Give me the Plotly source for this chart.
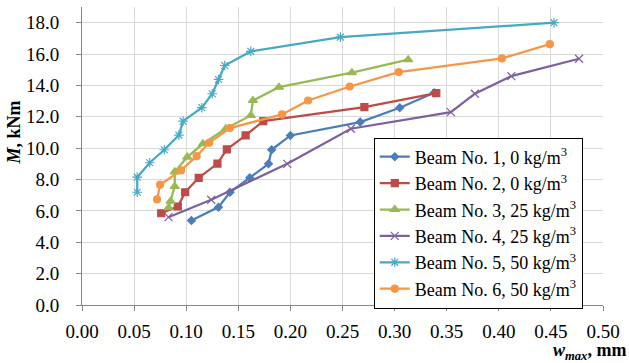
import plotly.graph_objects as go

names = ["Beam No. 1, 0 kg/m<sup>3</sup>", "Beam No. 2, 0 kg/m<sup>3</sup>",
         "Beam No. 3, 25 kg/m<sup>3</sup>", "Beam No. 4, 25 kg/m<sup>3</sup>",
         "Beam No. 5, 50 kg/m<sup>3</sup>", "Beam No. 6, 50 kg/m<sup>3</sup>"]

b1_w = [0.105, 0.131, 0.142, 0.161, 0.179, 0.182, 0.200, 0.267, 0.305, 0.338]
b1_m = [5.39, 6.24, 7.19, 8.11, 9.00, 9.90, 10.81, 11.66, 12.58, 13.53]

b2_w = [0.076, 0.092, 0.099, 0.112, 0.130, 0.139, 0.157, 0.174, 0.271, 0.340]
b2_m = [5.85, 6.28, 7.19, 8.11, 9.02, 9.92, 10.81, 11.72, 12.61, 13.51]

b3_w = [0.083, 0.085, 0.089, 0.089, 0.101, 0.116, 0.138, 0.162, 0.164, 0.189, 0.259, 0.313]
b3_m = [6.20, 6.62, 7.56, 8.49, 9.43, 10.28, 11.24, 12.09, 13.04, 13.89, 14.81, 15.64]

b4_w = [0.083, 0.124, 0.197, 0.258, 0.354, 0.377, 0.412, 0.477]
b4_m = [5.60, 6.71, 9.00, 11.24, 12.30, 13.47, 14.59, 15.70]

b5_w = [0.053, 0.053, 0.065, 0.079, 0.093, 0.097, 0.115, 0.125, 0.131, 0.137, 0.162, 0.248, 0.453]
b5_m = [7.19, 8.15, 9.07, 9.90, 10.83, 11.72, 12.58, 13.47, 14.38, 15.27, 16.17, 17.08, 18.00]

b6_w = [0.072, 0.075, 0.095, 0.110, 0.122, 0.142, 0.192, 0.217, 0.257, 0.304, 0.403, 0.449]
b6_m = [6.73, 7.67, 8.58, 9.49, 10.34, 11.28, 12.15, 13.04, 13.93, 14.85, 15.72, 16.63]

x_ticks = [0.00, 0.05, 0.10, 0.15, 0.20, 0.25, 0.30, 0.35, 0.40, 0.45, 0.50]
x_labels = ["0.00", "0.05", "0.10", "0.15", "0.20", "0.25", "0.30", "0.35", "0.40", "0.45", "0.50"]
y_ticks = [0, 2, 4, 6, 8, 10, 12, 14, 16, 18]
y_labels = ["0.0", "2.0", "4.0", "6.0", "8.0", "10.0", "12.0", "14.0", "16.0", "18.0"]

series = [
    (b1_w, b1_m, "#4A7EBB", "diamond", 6),
    (b2_w, b2_m, "#BE4B48", "square", 7),
    (b3_w, b3_m, "#98B954", "triangle-up", 8),
    (b4_w, b4_m, "#7D60A0", "x-thin-open", 8),
    (b5_w, b5_m, "#46AAC5", "asterisk-open", 8),
    (b6_w, b6_m, "#F79646", "circle", 7),
]

FF = "Liberation Serif"
TICKF = dict(family=FF, size=19, color="black")

fig = go.Figure()
for (xs, ys, col, sym, sz), nm in zip(series, names):
    fig.add_trace(go.Scatter(
        x=xs, y=ys, mode="lines+markers", name=nm,
        line=dict(color=col, width=2.25),
        marker=dict(symbol=sym, size=sz, color=col, line=dict(color=col, width=1.2)),
    ))

fig.update_layout(
    template="none",
    width=629, height=363,
    margin=dict(l=82, r=26, t=7, b=58),
    paper_bgcolor="white", plot_bgcolor="white",
    font=dict(family=FF, size=18, color="black"),
    showlegend=True,
    legend=dict(
        x=0.56, y=0.562, xanchor="left", yanchor="top",
        bordercolor="black", borderwidth=1, bgcolor="white",
        font=dict(family=FF, size=18, color="black"),
        itemwidth=30, tracegroupgap=0,
    ),
    xaxis=dict(
        range=[0, 0.5], tickmode="array", tickvals=x_ticks, ticktext=x_labels,
        showgrid=True, gridcolor="#D9D9D9", gridwidth=1,
        showline=True, linecolor="#868686", linewidth=1,
        ticks="outside", ticklen=5, tickcolor="#868686",
        zeroline=False, tickfont=TICKF, ticklabelstandoff=4,
    ),
    yaxis=dict(
        range=[0, 19], tickmode="array", tickvals=y_ticks, ticktext=y_labels,
        showgrid=True, gridcolor="#D9D9D9", gridwidth=1,
        showline=True, linecolor="#868686", linewidth=1,
        ticks="outside", ticklen=5, tickcolor="#868686",
        zeroline=False, tickfont=TICKF, ticklabelstandoff=13,
    ),
    annotations=[
        dict(text="<b><i>M</i>, kNm</b>", xref="paper", yref="paper",
             x=-0.13, y=0.58, textangle=-90, showarrow=False,
             font=dict(family=FF, size=18, color="black"),
             xanchor="center", yanchor="middle"),
        dict(text="<b><i>w</i><sub><i>max</i></sub>, mm</b>", xref="paper", yref="paper",
             x=0.9, y=-0.157, showarrow=False,
             font=dict(family=FF, size=18, color="black"),
             xanchor="left", yanchor="middle"),
    ],
)

fig.write_html("out.html",
               config={"displayModeBar": False},
               post_script="document.body.style.margin='0';document.body.style.overflow='hidden';")
